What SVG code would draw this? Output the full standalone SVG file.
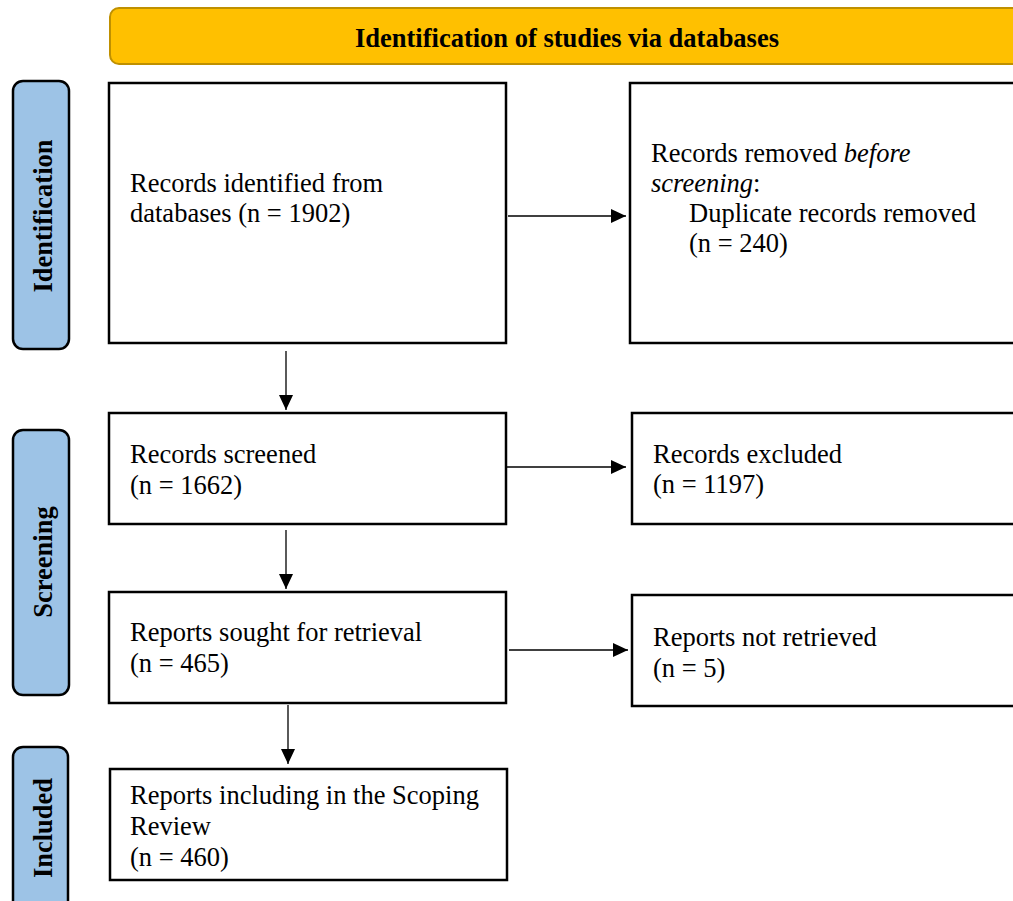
<svg xmlns="http://www.w3.org/2000/svg" width="1013" height="901" viewBox="0 0 1013 901">
<defs>
<marker id="ah" markerUnits="userSpaceOnUse" markerWidth="16" markerHeight="14" refX="15" refY="7" orient="auto">
<path d="M0,0 L15,7 L0,14 Z" fill="#000"/>
</marker>
<style>
.box{fill:#fff;stroke:#000;stroke-width:2.5}
.side{fill:#9DC3E6;stroke:#000;stroke-width:2.5}
.t{font-family:"Liberation Serif","Times New Roman",serif;font-size:26.5px;fill:#000}
.b{font-family:"Liberation Serif","Times New Roman",serif;font-size:26.5px;font-weight:bold;fill:#000}
.conn{stroke:#000;stroke-width:1.3;fill:none;marker-end:url(#ah)}
</style>
</defs>
<rect width="1013" height="901" fill="#fff"/>
<g id="banner">
<rect x="110" y="8" width="920" height="56" rx="9" fill="#FFC000" stroke="#BF9000" stroke-width="2"/>
<text class="b" x="567" y="47" text-anchor="middle">Identification of studies via databases</text>
</g>
<g id="side-identification">
<rect class="side" x="13" y="81" width="56" height="268" rx="10"/>
<text class="b" transform="translate(52,216) rotate(-90)" text-anchor="middle">Identification</text>
</g>
<g id="side-screening">
<rect class="side" x="13" y="430" width="56" height="265" rx="10"/>
<text class="b" transform="translate(52,562) rotate(-90)" text-anchor="middle">Screening</text>
</g>
<g id="side-included">
<rect class="side" x="13" y="747" width="55" height="180" rx="10"/>
<text class="b" transform="translate(52,828) rotate(-90)" text-anchor="middle">Included</text>
</g>
<g id="n-identified">
<rect class="box" x="109" y="83" width="397" height="260"/>
<text class="t" x="130" y="192">Records identified from</text>
<text class="t" x="130" y="222">databases (n = 1902)</text>
</g>
<g id="n-removed">
<rect class="box" x="630" y="83" width="400" height="260"/>
<text class="t" x="651" y="162">Records removed <tspan font-style="italic">before</tspan></text>
<text class="t" x="651" y="192"><tspan font-style="italic">screening</tspan>:</text>
<text class="t" x="689" y="222">Duplicate records removed</text>
<text class="t" x="689" y="252">(n = 240)</text>
</g>
<g id="n-screened">
<rect class="box" x="109" y="413" width="397" height="111"/>
<text class="t" x="130" y="463">Records screened</text>
<text class="t" x="130" y="494">(n = 1662)</text>
</g>
<g id="n-excluded">
<rect class="box" x="632" y="413" width="400" height="111"/>
<text class="t" x="653" y="463">Records excluded</text>
<text class="t" x="653" y="493">(n = 1197)</text>
</g>
<g id="n-sought">
<rect class="box" x="109" y="592" width="397" height="111"/>
<text class="t" x="130" y="641">Reports sought for retrieval</text>
<text class="t" x="130" y="672">(n = 465)</text>
</g>
<g id="n-notretrieved">
<rect class="box" x="632" y="595" width="400" height="111"/>
<text class="t" x="653" y="646">Reports not retrieved</text>
<text class="t" x="653" y="677">(n = 5)</text>
</g>
<g id="n-included">
<rect class="box" x="110" y="769" width="397" height="111"/>
<text class="t" x="130" y="804">Reports including in the Scoping</text>
<text class="t" x="130" y="835">Review</text>
<text class="t" x="130" y="866">(n = 460)</text>
</g>
<g id="connectors">
<line class="conn" x1="508" y1="216" x2="626" y2="216"/>
<line class="conn" x1="286" y1="351" x2="286" y2="410"/>
<line class="conn" x1="507" y1="467" x2="626" y2="467"/>
<line class="conn" x1="286" y1="530" x2="286" y2="589"/>
<line class="conn" x1="509" y1="650" x2="628" y2="650"/>
<line class="conn" x1="288" y1="705" x2="288" y2="764"/>
</g>
</svg>
